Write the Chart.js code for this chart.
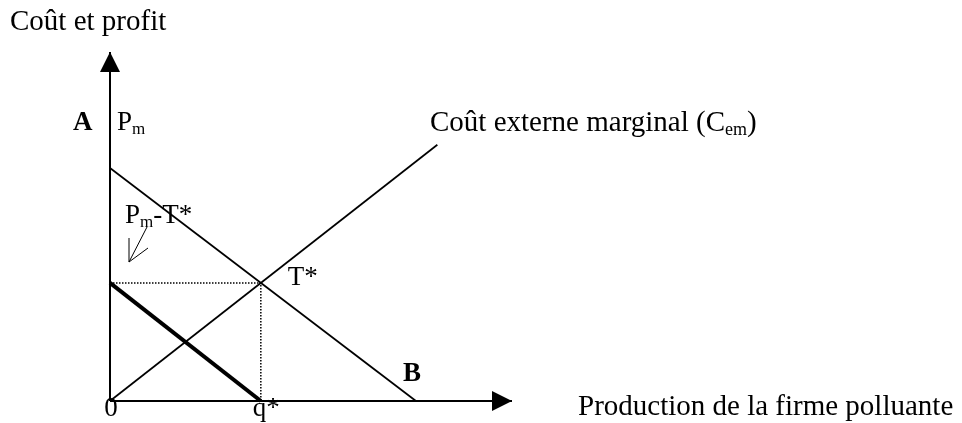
<!DOCTYPE html>
<html>
<head>
<meta charset="utf-8">
<script src="https://cdn.jsdelivr.net/npm/chart.js@4/dist/chart.umd.min.js"></script>
<style>
  html, body { margin: 0; padding: 0; background: #ffffff; }
  #c { display: block; }
</style>
</head>
<body>
<canvas id="c" width="962" height="423"></canvas>
<script>
// ---- Data (arbitrary units) ----
const demandX = [0, 10];          // Pm ... B  (marginal profit line)
const demandY = [10, 0];
const cemX = [0, 10.7];           // Coût externe marginal
const cemY = [0, 11.0];
const taxLineX = [0, 4.93];       // Pm - T* (thick line)
const taxLineY = [5.07, 0];
const guideX = [0, 4.93, 4.93];   // dotted guides to T* and q*
const guideY = [5.07, 5.07, 0];
const axisYX = [0, 0];            // vertical axis
const axisYY = [0, 14.98];
const axisXX = [0, 13.14];        // horizontal axis
const axisXY = [0, 0];

const yAxisTitle = "Coût et profit";
const xAxisTitle = "Production de la firme polluante";
const cemLabel = ["Coût externe marginal (C", "em", ")"];

const pts = (xs, ys) => xs.map((x, i) => ({ x: x, y: ys[i] }));

const FONT = "'Liberation Serif', 'Times New Roman', serif";
const FS = 27;    // point labels
const FT = 29;    // titles

const annotations = {
  id: 'annotations',
  afterDatasetsDraw(chart) {
    const ctx = chart.ctx;
    const xs = chart.scales.x, ys = chart.scales.y;
    const X = v => xs.getPixelForValue(v);
    const Y = v => ys.getPixelForValue(v);
    ctx.save();
    ctx.fillStyle = '#000';
    ctx.strokeStyle = '#000';

    // arrow heads on axes
    const ox = X(0), oy = Y(0);
    const ty = Y(axisYY[1]);
    ctx.beginPath();
    ctx.moveTo(ox, ty);
    ctx.lineTo(ox - 10, ty + 20);
    ctx.lineTo(ox + 10, ty + 20);
    ctx.closePath();
    ctx.fill();
    const tx = X(axisXX[1]);
    ctx.beginPath();
    ctx.moveTo(tx, oy);
    ctx.lineTo(tx - 20, oy - 10);
    ctx.lineTo(tx - 20, oy + 10);
    ctx.closePath();
    ctx.fill();

    // small pointer arrow under "Pm-T*"
    ctx.lineWidth = 1;
    ctx.beginPath();
    ctx.moveTo(147, 227);
    ctx.lineTo(129, 262);
    ctx.moveTo(129, 238);
    ctx.lineTo(129, 262);
    ctx.lineTo(148, 248);
    ctx.stroke();

    ctx.textBaseline = 'alphabetic';
    ctx.textAlign = 'left';
    const f = (size, bold) => (bold ? 'bold ' : '') + size + 'px ' + FONT;

    const txt = (s, x, y, size, bold) => {
      ctx.font = f(size, bold);
      ctx.fillText(s, x, y);
      return x + ctx.measureText(s).width;
    };

    txt(yAxisTitle, 10, 30, FT);
    txt("A", 73, 130, FS, true);
    let x = txt("P", 117, 130, FS);
    txt("m", x, 134, 17);

    x = txt(cemLabel[0], 430, 131, FT);
    x = txt(cemLabel[1], x, 135, 18);
    txt(cemLabel[2], x, 131, FT);

    x = txt("P", 125, 223, FS);
    x = txt("m", x, 227, 17);
    txt("-T*", x, 223, FS);

    txt("T*", X(guideX[1]) + 27, Y(guideY[1]) + 2, FS);
    txt("B", X(demandX[1]) - 13, Y(0) - 20, FS, true);

    ctx.textAlign = 'center';
    txt("0", X(0) + 1, Y(0) + 15, FS);
    ctx.textAlign = 'left';
    txt("q*", X(guideX[1]) - 8, Y(0) + 15, FS);
    txt(xAxisTitle, 578, 415, FT);
    ctx.restore();
  }
};

const line = (data, width, dash) => ({
  data: data,
  showLine: true,
  borderColor: '#000',
  backgroundColor: '#000',
  borderWidth: width,
  borderDash: dash || [],
  pointRadius: 0,
  pointHoverRadius: 0,
  fill: false,
  tension: 0,
  clip: false
});

new Chart(document.getElementById('c'), {
  type: 'scatter',
  data: {
    datasets: [
      line(pts(axisYX, axisYY), 2),
      line(pts(axisXX, axisXY), 2),
      line(pts(demandX, demandY), 1.7),
      line(pts(cemX, cemY), 1.7),
      line(pts(guideX, guideY), 1.5, [1.5, 1.5]),
      line(pts(taxLineX, taxLineY), 4)
    ]
  },
  options: {
    responsive: false,
    animation: false,
    events: [],
    layout: { padding: { left: 110, right: 450, top: 52, bottom: 22 } },
    plugins: { legend: { display: false }, tooltip: { enabled: false } },
    scales: {
      x: { type: 'linear', display: false, min: 0, max: axisXX[1] },
      y: { type: 'linear', display: false, min: 0, max: axisYY[1] }
    }
  },
  plugins: [annotations]
});
</script>
</body>
</html>
